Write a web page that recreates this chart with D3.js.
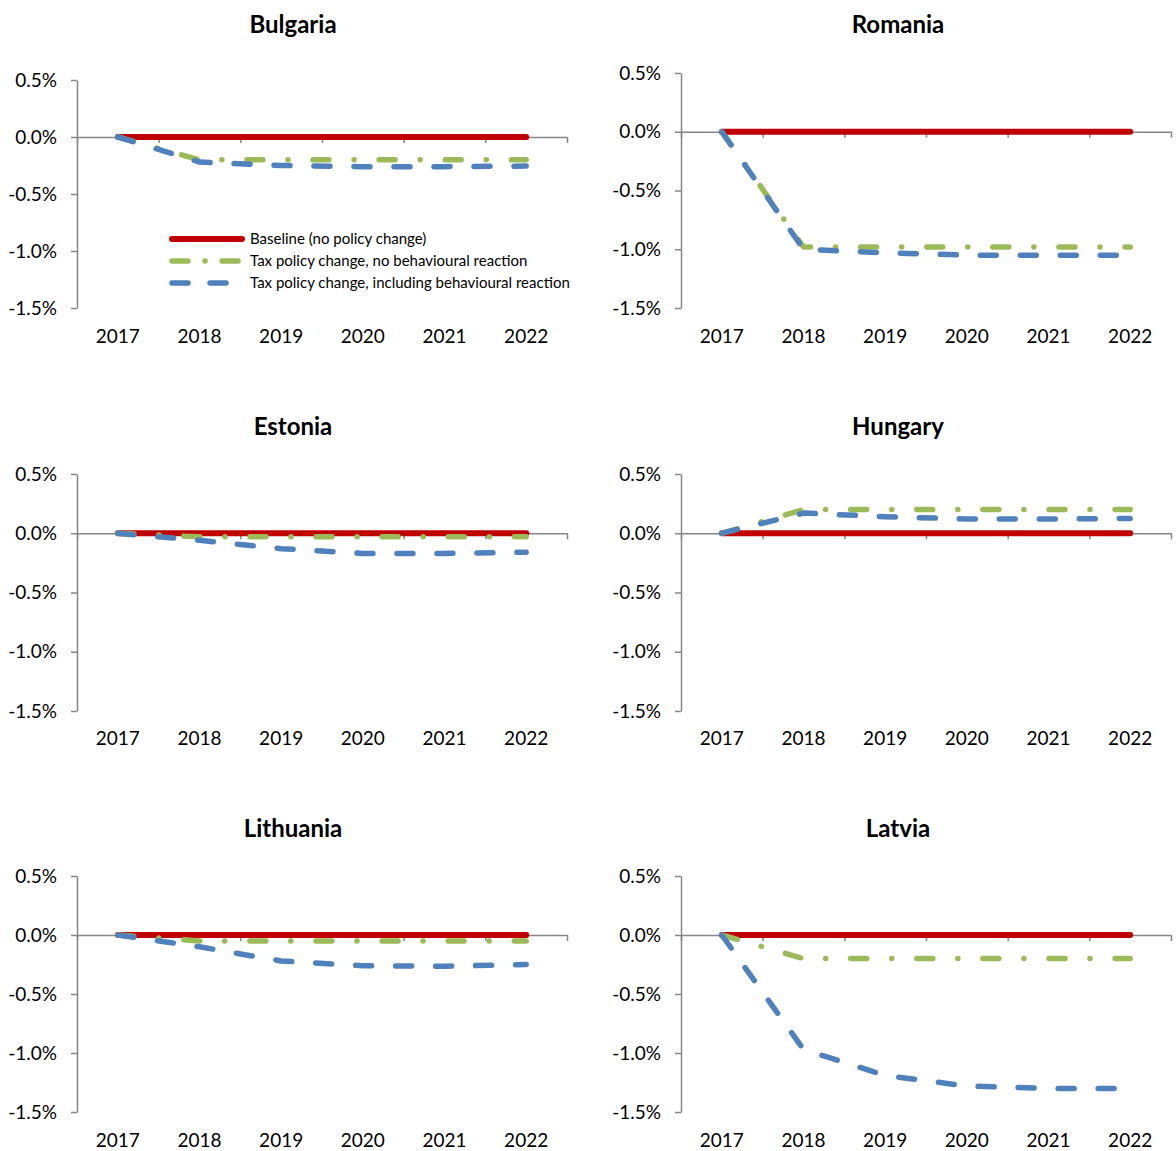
<!DOCTYPE html>
<html>
<head>
<meta charset="utf-8">
<script src="https://cdn.jsdelivr.net/npm/d3@7"></script>
<style>
  body { margin: 0; background: #fff; }
  svg { font-family: Lato, "Liberation Sans", sans-serif; }
</style>
</head>
<body>
<script>
// years on the x axis and fixed y ticks (in %)
const years = ["2017", "2018", "2019", "2020", "2021", "2022"];
const yTicks = [0.5, 0, -0.5, -1, -1.5];

const seriesNames = [
  "Baseline (no policy change)",
  "Tax policy change, no behavioural reaction",
  "Tax policy change, including behavioural reaction"
];

// values in % deviation from baseline
const baseline = [0, 0, 0, 0, 0, 0];
const bulgariaNoReaction = [0, -0.2, -0.2, -0.2, -0.2, -0.2];
const bulgariaWithReaction = [0, -0.22, -0.25, -0.26, -0.26, -0.255];
const romaniaNoReaction = [0, -0.98, -0.98, -0.98, -0.98, -0.98];
const romaniaWithReaction = [0, -1.0, -1.03, -1.05, -1.05, -1.05];
const estoniaNoReaction = [0, -0.03, -0.03, -0.03, -0.03, -0.03];
const estoniaWithReaction = [0, -0.06, -0.13, -0.17, -0.17, -0.16];
const hungaryNoReaction = [0, 0.2, 0.2, 0.2, 0.2, 0.2];
const hungaryWithReaction = [0, 0.17, 0.14, 0.12, 0.12, 0.125];
const lithuaniaNoReaction = [0, -0.05, -0.05, -0.05, -0.05, -0.05];
const lithuaniaWithReaction = [0, -0.1, -0.22, -0.26, -0.265, -0.25];
const latviaNoReaction = [0, -0.2, -0.2, -0.2, -0.2, -0.2];
const latviaWithReaction = [0, -0.97, -1.19, -1.28, -1.3, -1.3];

const panels = [
  { name: "Bulgaria", series: [baseline, bulgariaNoReaction, bulgariaWithReaction] },
  { name: "Romania", series: [baseline, romaniaNoReaction, romaniaWithReaction] },
  { name: "Estonia", series: [baseline, estoniaNoReaction, estoniaWithReaction] },
  { name: "Hungary", series: [baseline, hungaryNoReaction, hungaryWithReaction] },
  { name: "Lithuania", series: [baseline, lithuaniaNoReaction, lithuaniaWithReaction] },
  { name: "Latvia", series: [baseline, latviaNoReaction, latviaWithReaction] }
];

// plot boxes (pixels) for each panel
const boxes = [
  { x0: 77, x1: 567, top: 80, bottom: 308, titleX: 293, titleY: 33, yearY: 343 },
  { x0: 681, x1: 1171, top: 73, bottom: 308, titleX: 898, titleY: 33, yearY: 343 },
  { x0: 77, x1: 567, top: 474, bottom: 711, titleX: 293, titleY: 435, yearY: 745 },
  { x0: 681, x1: 1171, top: 474, bottom: 711, titleX: 898, titleY: 435, yearY: 745 },
  { x0: 77, x1: 567, top: 876, bottom: 1112, titleX: 293, titleY: 837, yearY: 1147 },
  { x0: 681, x1: 1171, top: 876, bottom: 1112, titleX: 898, titleY: 837, yearY: 1147 }
];

const styles = [
  { color: "#C00000", width: 6, dash: null },
  { color: "#9BBB59", width: 5.5, dash: "16,25,0.1,25" },
  { color: "#4F81BD", width: 5.5, dash: "16,24" }
];
const axisColor = "#868686";
const fmt = d => d.toFixed(1) + "%";

const svg = d3.select("body").append("svg")
  .attr("width", 1176)
  .attr("height", 1151);

panels.forEach((p, pi) => {
  const b = boxes[pi];
  const g = svg.append("g");

  const x = d3.scaleBand().domain(years).range([b.x0, b.x1]);
  const xEdge = d3.scaleLinear().domain([0, years.length]).range([b.x0, b.x1]);
  const y = d3.scaleLinear().domain([-1.5, 0.5]).range([b.bottom, b.top]);

  // title
  g.append("text")
    .attr("x", b.titleX)
    .attr("y", b.titleY)
    .attr("text-anchor", "middle")
    .attr("font-size", 24)
    .attr("font-weight", "bold")
    .text(p.name);

  // y axis
  const yAxis = g.append("g")
    .attr("transform", `translate(${b.x0},0)`)
    .call(d3.axisLeft(y).tickValues(yTicks).tickFormat(fmt).tickSize(6).tickSizeOuter(0).tickPadding(14));
  yAxis.selectAll("path, line").attr("stroke", axisColor).attr("stroke-width", 1.5);
  yAxis.selectAll("text").attr("font-size", 19).attr("fill", "#000").attr("font-family", "Lato, sans-serif");

  // x axis with ticks at band edges, placed at zero
  const xAxis = g.append("g")
    .attr("transform", `translate(0,${y(0)})`)
    .call(d3.axisBottom(xEdge).ticks(years.length).tickFormat("").tickSize(6).tickSizeOuter(0));
  xAxis.selectAll("path, line").attr("stroke", axisColor).attr("stroke-width", 1.5);

  // year labels
  g.selectAll(".year").data(years).join("text")
    .attr("x", d => x(d) + x.bandwidth() / 2)
    .attr("y", b.yearY)
    .attr("text-anchor", "middle")
    .attr("font-size", 19)
    .text(d => d);

  // lines
  const line = d3.line()
    .x((d, i) => x(years[i]) + x.bandwidth() / 2)
    .y(d => y(d));

  p.series.forEach((s, si) => {
    const st = styles[si];
    g.append("path")
      .datum(s)
      .attr("d", line)
      .attr("fill", "none")
      .attr("stroke", st.color)
      .attr("stroke-width", st.width)
      .attr("stroke-linecap", "round")
      .attr("stroke-linejoin", "round")
      .attr("stroke-dasharray", st.dash);
  });
});

// legend in the Bulgaria panel
const legend = svg.append("g");
const legendRows = [239, 261, 283];
const legendDash = [null, "16,17,0.1,17", "16,22"];
seriesNames.forEach((name, i) => {
  const st = styles[i];
  legend.append("line")
    .attr("x1", 172).attr("x2", 242)
    .attr("y1", legendRows[i]).attr("y2", legendRows[i])
    .attr("stroke", st.color)
    .attr("stroke-width", st.width)
    .attr("stroke-linecap", "round")
    .attr("stroke-dasharray", legendDash[i]);
  legend.append("text")
    .attr("x", 250)
    .attr("y", legendRows[i] + 5)
    .attr("font-size", 15)
    .text(name);
});
</script>
</body>
</html>
